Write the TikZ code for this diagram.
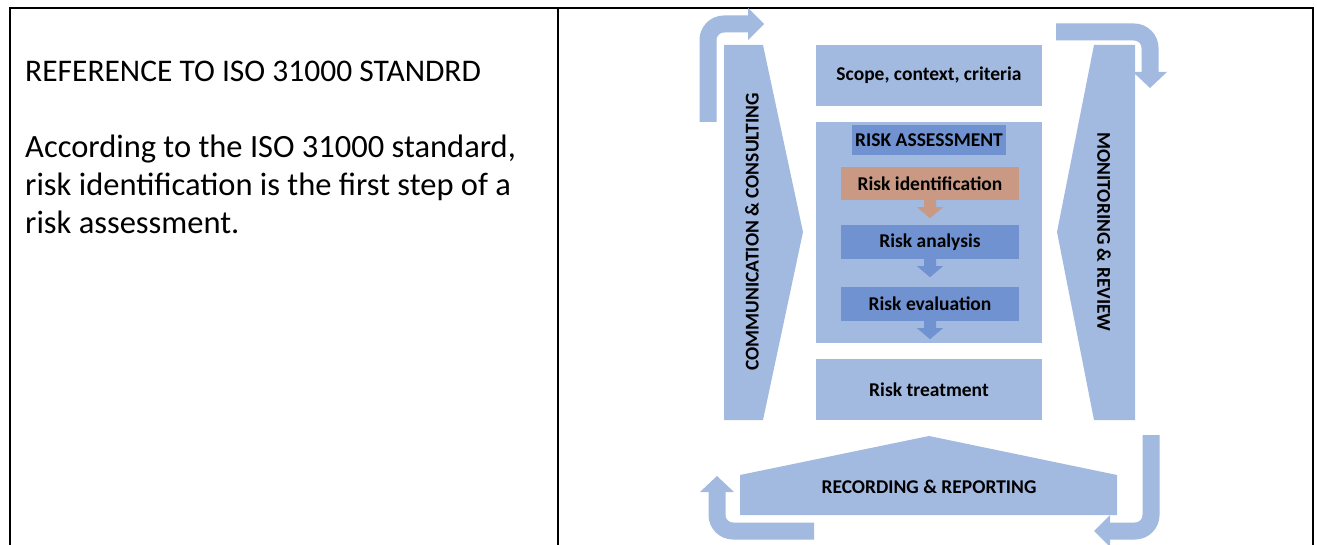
\documentclass[tikz,border=0pt]{standalone}
\usepackage{fontspec}
\setmainfont{Carlito}
\usetikzlibrary{calc}

\definecolor{lightblue}{RGB}{162,185,224}
\definecolor{midblue}{RGB}{112,146,208}
\definecolor{salmon}{RGB}{201,153,132}

\tikzset{
  frame/.style={line width=2pt, black},
  titletext/.style={font=\fontsize{31.5}{36}\selectfont, inner sep=0pt},
  bodytext/.style={font=\fontsize{32.5}{38}\selectfont, inner sep=0pt},
  lbl/.style={font=\bfseries\fontsize{19.5}{23}\selectfont, inner sep=0pt},
  block/.style={lbl, fill=lightblue, minimum width=226pt, minimum height=61pt},
  stepbox/.style={lbl, fill=midblue, minimum width=178pt, minimum height=34pt},
  flow/.style={line width=17pt, lightblue, rounded corners=16pt}
}

\begin{document}
\begin{tikzpicture}[x=1pt, y=-1pt]
\useasboundingbox (0,0) rectangle (1317,545);

% table
\draw[frame] (10,545) -- (10,8) -- (1313,8) -- (1313,545);
\draw[frame] (558,8) -- (558,545);

% left cell
\node[titletext, anchor=base west] (title) at (25,82) {REFERENCE TO ISO 31000 STANDRD};
\foreach \t/\yy [count=\i] in {{According to the ISO 31000 standard,}/158,
    {risk identification is the first step of a}/196,
    {risk assessment.}/234}
  \node[bodytext, anchor=base west] (line\i) at (25,\yy) {\t};

% side shapes
\fill[lightblue] (724,45) -- (763,45) -- (803,232) -- (763,420) -- (724,420) -- cycle;
\node[lbl, rotate=90] (comm) at (752,232) {COMMUNICATION \& CONSULTING};
\fill[lightblue] (1094,45) -- (1135,45) -- (1135,420) -- (1094,420) -- (1057,232) -- cycle;
\node[lbl, rotate=-90] (monitor) at (1104,232) {MONITORING \& REVIEW};
\fill[lightblue] (740,475) -- (929,436) -- (1117,475) -- (1117,515) -- (740,515) -- cycle;
\node[lbl] (record) at (929,487) {RECORDING \& REPORTING};

% curved arrows
\draw[flow] (708,122) |- (749,24);
\fill[lightblue] (748,8) -- (764,24) -- (748,40) -- cycle;
\draw[flow] (1056,32) -| (1150,73);
\fill[lightblue] (1133,72) -- (1167,72) -- (1150,88) -- cycle;
\draw[flow] (1151,435) |- (1109,531);
\fill[lightblue] (1110,515) -- (1094,531) -- (1110,547) -- cycle;
\draw[flow] (814,531) -| (717,491);
\fill[lightblue] (700,492) -- (717,476) -- (734,492) -- cycle;

% centre column
\node[block] (scope) at (929,75.5) {Scope, context, criteria};
\node[block, minimum height=221pt] (assess) at (928.5,232.5) {};
\node[stepbox, minimum width=154pt, minimum height=30pt] (assesshead) at (929,140) {RISK ASSESSMENT};
\node[stepbox, fill=salmon, minimum height=33pt] (ident) at (930,183.5) {Risk identification};
\node[stepbox] (analysis) at (930,242) {Risk analysis};
\node[stepbox] (evaluation) at (930,304) {Risk evaluation};
\node[block] (treat) at (929,389.5) {Risk treatment};

\foreach \n/\c in {ident/salmon, analysis/midblue, evaluation/midblue}
  \fill[\c, shift={(\n.south)}] (-6,0) -- (6,0) -- (6,7) -- (13,7) -- (0,18) -- (-13,7) -- (-6,7) -- cycle;
\end{tikzpicture}
\end{document}
